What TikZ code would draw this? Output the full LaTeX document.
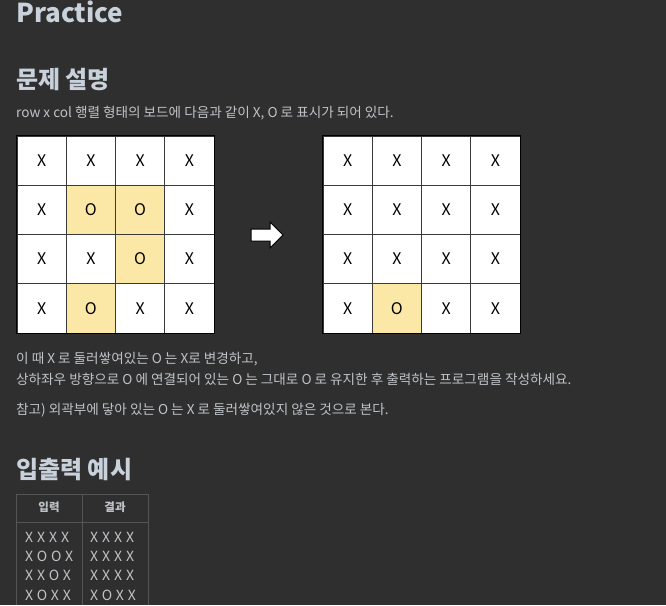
\documentclass[tikz,border=0pt]{standalone}
\usepackage{fontspec}
\setmainfont{Noto Sans CJK KR}
\definecolor{bg}{HTML}{2F2F2F}
\definecolor{headc}{HTML}{C9D1DB}
\definecolor{bodyc}{HTML}{BFC3C8}
\definecolor{hl}{HTML}{FCE8A6}
\definecolor{gridc}{HTML}{3A3A3A}
\definecolor{tabc}{HTML}{555555}
\begin{document}
\begin{tikzpicture}[x=1pt,y=-1pt,
  head1/.style={anchor=base west,inner sep=0pt,text=headc,font=\fontsize{26}{30}\selectfont\bfseries},
  head2/.style={anchor=base west,inner sep=0pt,text=headc,font=\fontsize{24}{28}\selectfont\bfseries},
  bodytxt/.style={anchor=base west,inner sep=0pt,text=bodyc,font=\fontsize{13.6}{16}\selectfont},
  cellbox/.style={draw=gridc,line width=1pt,minimum width=49.25pt,minimum height=49.25pt,inner sep=0pt,font=\fontsize{16}{18}\selectfont,text=black},
  tabhead/.style={inner sep=0pt,text=bodyc,font=\fontsize{11.5}{13}\selectfont\bfseries},
  tabbody/.style={anchor=base west,inner sep=0pt,text=bodyc,font=\fontsize{14}{16}\selectfont\addfontfeatures{LetterSpace=28}},
  tabline/.style={draw=tabc,line width=0.8pt}]
\fill[bg] (0,0) rectangle (666,605);
\useasboundingbox (0,0) rectangle (666,605);

\node[head1] (title) at (16,23) {Practice};
\node[head2] (h1) at (16,88) {문제 설명};
\node[bodytxt] (t1) at (16,117) {row x col 행렬 형태의 보드에 다음과 같이 X, O 로 표시가 되어 있다.};

% left grid
\foreach \r/\c/\t/\f in {0/0/X/white,0/1/X/white,0/2/X/white,0/3/X/white,
  1/0/X/white,1/1/O/hl,1/2/O/hl,1/3/X/white,
  2/0/X/white,2/1/X/white,2/2/O/hl,2/3/X/white,
  3/0/X/white,3/1/O/hl,3/2/X/white,3/3/X/white}{
  \node[cellbox,fill=\f] (L-\r-\c) at ({17+24.625+49.25*\c},{136+24.625+49.25*\r}) {\t};
}
\draw[black,line width=1.2pt] (L-0-0.north west) rectangle (L-3-3.south east);

% right grid
\foreach \r/\c/\t/\f in {0/0/X/white,0/1/X/white,0/2/X/white,0/3/X/white,
  1/0/X/white,1/1/X/white,1/2/X/white,1/3/X/white,
  2/0/X/white,2/1/X/white,2/2/X/white,2/3/X/white,
  3/0/X/white,3/1/O/hl,3/2/X/white,3/3/X/white}{
  \node[cellbox,fill=\f] (R-\r-\c) at ({323+24.625+49.25*\c},{136+24.625+49.25*\r}) {\t};
}
\draw[black,line width=1.2pt] (R-0-0.north west) rectangle (R-3-3.south east);

% arrow
\coordinate (ar) at (267,235);
\draw[fill=white,draw=black,line width=1pt,line join=miter]
  ([shift={(-16,-6)}]ar) -- ([shift={(3,-6)}]ar) -- ([shift={(3,-13)}]ar) -- ([shift={(16,0)}]ar)
  -- ([shift={(3,13)}]ar) -- ([shift={(3,6)}]ar) -- ([shift={(-16,6)}]ar) -- cycle;

\node[bodytxt] (t2) at (16,363) {이 때 X 로 둘러쌓여있는 O 는 X로 변경하고,};
\node[bodytxt] (t3) at (16,384) {상하좌우 방향으로 O 에 연결되어 있는 O 는 그대로 O 로 유지한 후 출력하는 프로그램을 작성하세요.};
\node[bodytxt] (t4) at (16,414) {참고) 외곽부에 닿아 있는 O 는 X 로 둘러쌓여있지 않은 것으로 본다.};

\node[head2] (h2) at (16,478) {입출력 예시};

% table
\draw[tabline] (16,605) -- (16,494) -- (148,494) -- (148,605);
\draw[tabline] (82,494) -- (82,605);
\draw[tabline] (16,522) -- (148,522);
\node[tabhead] (th1) at (49,507) {입력};
\node[tabhead] (th2) at (115,507) {결과};
\foreach \y/\a/\b in {542/XXXX/XXXX,561/XOOX/XXXX,580/XXOX/XXXX,600/XOXX/XOXX}{
  \node[tabbody] at (25,\y) {\a};
  \node[tabbody] at (90,\y) {\b};
}
\end{tikzpicture}
\end{document}
